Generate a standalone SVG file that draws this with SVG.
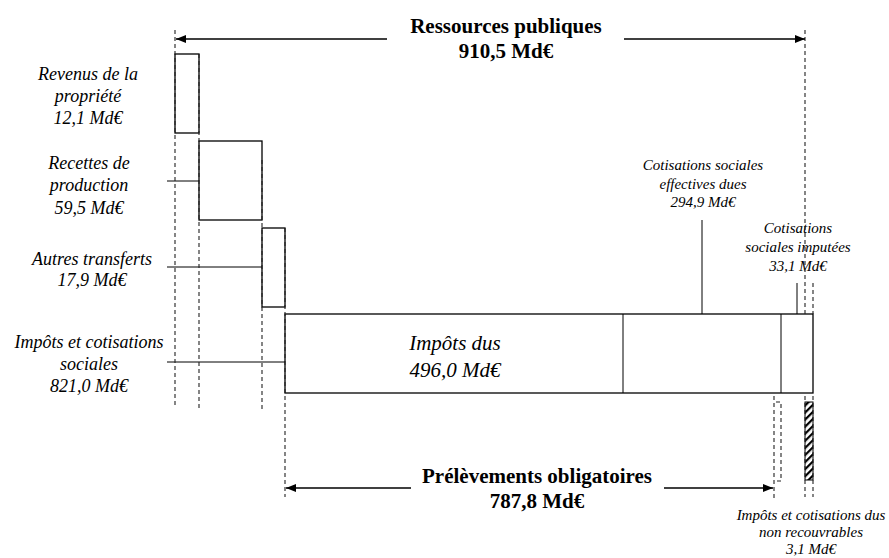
<svg xmlns="http://www.w3.org/2000/svg" width="889" height="558" viewBox="0 0 889 558">
<style>
text{font-family:"Liberation Serif","Times New Roman",serif;fill:#000;text-anchor:middle}
.lbl{font-style:italic;font-size:18px}
.sm{font-style:italic;font-size:15px}
.big{font-style:italic;font-size:21px}
.ttl{font-weight:bold;font-size:21px}
.box{fill:#fff;stroke:#000;stroke-width:1.3}
.ptr{stroke:#000;stroke-width:1;fill:none}
.dash{stroke:#222;stroke-width:1.1;stroke-dasharray:4 3;fill:none}
.arr{stroke:#000;stroke-width:1.3;fill:none}
</style>
<defs>
<marker id="ah" viewBox="0 0 10 8" refX="10" refY="4" markerWidth="10" markerHeight="8" markerUnits="userSpaceOnUse" orient="auto">
<path d="M0,0 L10,4 L0,8 Z" fill="#000"/>
</marker>
<pattern id="hatch" width="5" height="5" patternUnits="userSpaceOnUse" patternTransform="rotate(45)">
<rect width="5" height="5" fill="#fff"/>
<rect width="2.2" height="5" fill="#000"/>
</pattern>
</defs>
<rect width="889" height="558" fill="#fff"/>

<g id="revenus">
<rect class="box" x="175" y="54" width="24" height="79"/>
<text class="lbl" x="88" y="80">Revenus de la</text>
<text class="lbl" x="88" y="102">propriété</text>
<text class="lbl" x="88" y="124">12,1 Md€</text>
</g>

<g id="recettes">
<rect class="box" x="199" y="141" width="63" height="79"/>
<line class="ptr" x1="167" y1="181" x2="199" y2="181"/>
<text class="lbl" x="89" y="169">Recettes de</text>
<text class="lbl" x="89" y="191">production</text>
<text class="lbl" x="89" y="214">59,5 Md€</text>
</g>

<g id="autres">
<rect class="box" x="262" y="228" width="23" height="79"/>
<line class="ptr" x1="167" y1="267" x2="262" y2="267"/>
<text class="lbl" x="92" y="265">Autres transferts</text>
<text class="lbl" x="92" y="286">17,9 Md€</text>
</g>

<g id="impots-cotisations">
<rect class="box" x="285" y="314" width="528" height="79"/>
<line class="ptr" x1="167" y1="362" x2="285" y2="362"/>
<text class="lbl" x="89" y="348">Impôts et cotisations</text>
<text class="lbl" x="89" y="370">sociales</text>
<text class="lbl" x="89" y="392">821,0 Md€</text>
</g>

<g id="impots-dus">
<line class="ptr" x1="623" y1="314" x2="623" y2="393" stroke-width="1.3"/>
<text class="big" x="455" y="350">Impôts dus</text>
<text class="big" x="455" y="377">496,0 Md€</text>
</g>

<g id="cotisations-effectives">
<line class="ptr" x1="781" y1="314" x2="781" y2="393" stroke-width="1.3"/>
<line class="ptr" x1="702" y1="220" x2="702" y2="314"/>
<text class="sm" x="703" y="170">Cotisations sociales</text>
<text class="sm" x="703" y="189">effectives dues</text>
<text class="sm" x="703" y="207">294,9 Md€</text>
</g>

<g id="cotisations-imputees">
<line class="ptr" x1="797" y1="283" x2="797" y2="314" stroke="#555"/>
<text class="sm" x="798" y="233">Cotisations</text>
<text class="sm" x="798" y="252">sociales imputées</text>
<text class="sm" x="798" y="271">33,1 Md€</text>
</g>

<g id="non-recouvrables">
<rect x="805" y="402" width="8" height="78" fill="url(#hatch)" stroke="#000" stroke-width="1"/>
<path class="dash" d="M776,402 H781 V481 H776" stroke="#000"/>
<text class="sm" x="811" y="520">Impôts et cotisations dus</text>
<text class="sm" x="811" y="537">non recouvrables</text>
<text class="sm" x="811" y="554">3,1 Md€</text>
</g>

<g id="ressources">
<text class="ttl" x="506" y="33">Ressources publiques</text>
<text class="ttl" x="506" y="58">910,5 Md€</text>
</g>

<g id="prelevements">
<text class="ttl" x="537" y="483">Prélèvements obligatoires</text>
<text class="ttl" x="537" y="508">787,8 Md€</text>
</g>

<g id="connectors">
<line class="dash" x1="175" y1="30" x2="175" y2="407" stroke="#777"/>
<line class="dash" x1="199" y1="54" x2="199" y2="410"/>
<line class="dash" x1="262" y1="160" x2="262" y2="409"/>
<line class="dash" x1="285" y1="228" x2="285" y2="497" stroke="#555"/>
<line class="dash" x1="805" y1="30" x2="805" y2="314"/>
<line class="dash" x1="813" y1="283" x2="813" y2="314"/>
<line class="dash" x1="774" y1="396" x2="774" y2="498" stroke="#555"/>
<line class="dash" x1="805" y1="396" x2="805" y2="497"/>
<line class="dash" x1="813" y1="396" x2="813" y2="497"/>
<line class="arr" x1="387" y1="39" x2="176" y2="39" marker-end="url(#ah)"/>
<line class="arr" x1="624" y1="39" x2="805" y2="39" marker-end="url(#ah)"/>
<line class="arr" x1="411" y1="488" x2="286" y2="488" marker-end="url(#ah)"/>
<line class="arr" x1="664" y1="488" x2="773" y2="488" marker-end="url(#ah)"/>
</g>
</svg>
